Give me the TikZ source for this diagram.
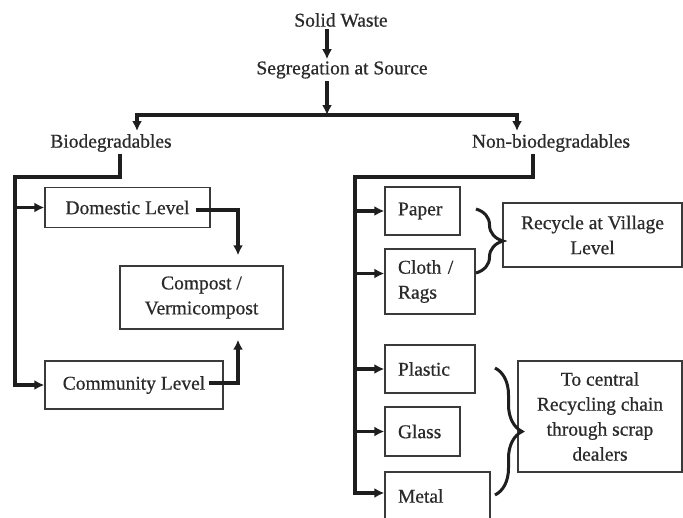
\documentclass[tikz,border=0pt]{standalone}
\usepackage{fontspec}
\setmainfont{Liberation Serif}
\newfontfamily\diagfont{Liberation Serif}[FakeBold=0.6]
\usetikzlibrary{arrows.meta,decorations.pathreplacing,calc}
\definecolor{ink}{HTML}{1E1E1E}
\definecolor{boxc}{HTML}{3A3A3A}
\definecolor{txtc}{HTML}{2A2A2A}
\begin{document}
\begin{tikzpicture}[x=1pt,y=-1pt,
  font=\diagfont\fontsize{19.5}{25}\selectfont,
  txt/.style={inner sep=2pt, text=txtc},
  box/.style={draw=boxc, line width=1.4pt, inner sep=0pt, text=txtc, align=center},
  lbox/.style={draw=boxc, line width=1.4pt, inner xsep=13pt, inner ysep=0pt, text=txtc, align=left},
  tree/.style={line width=3.2pt, draw=ink},
  arr/.style={tree, -{Latex[length=10pt,width=10pt]}},
  brc/.style={line width=3pt, draw=ink, decorate, decoration={brace, amplitude=#1}},
]
\useasboundingbox (0,0) rectangle (683,517);
\fill[white] (0,0) rectangle (683,517);
\begin{scope}
\clip (0,0) rectangle (683,517);

% titles
\node[txt] (sw)  at (341,20)  {Solid Waste};
\node[txt] (seg) at (342,70)  {Segregation at Source};
\node[txt] (bio) at (111,143) {Biodegradables};
\node[txt] (nb)  at (551,143) {Non-biodegradables};

% left boxes
\node[box, minimum width=165pt, minimum height=40pt] (dom) at (127.5,207.5) {Domestic Level};
\node[box, minimum width=163pt, minimum height=63pt] (cmp) at (201.5,297.5) {Compost /\\Vermicompost};
\node[box, minimum width=178pt, minimum height=48pt] (com) at (134,385) {Community Level};

% right boxes
\node[lbox, text width=49pt, minimum height=48pt] (paper) at (422.5,211) {Paper};
\node[lbox, text width=64pt, minimum height=65pt] (cloth) at (430,281.5) {Cloth /\\Rags};
\node[lbox, text width=64pt, minimum height=48pt] (plastic) at (430,369) {Plastic};
\node[lbox, text width=49pt, minimum height=49pt] (glass) at (422.5,431.5) {Glass};
\node[lbox, text width=79pt, minimum height=48pt] (metal) at (437.5,496) {Metal};
\node[box, minimum width=179pt, minimum height=64pt] (rec) at (592.5,235) {Recycle at Village\\Level};
\node[box, minimum width=164pt, minimum height=111pt] (cen) at (600,416.5) {To central\\Recycling chain\\through scrap\\dealers};

% top arrows
\coordinate (jC) at (327,115);
\coordinate (tL) at (137,131);
\coordinate (tR) at (517,131);
\draw[arr] (sw.south -| jC) -- (seg.north -| jC);
\draw[arr] (seg.south -| jC) -- (jC);
\draw[arr] (jC) -| (tL);
\draw[arr] (jC) -| (tR);

% left tree
\coordinate (L1) at (15,177);
\draw[arr] ([xshift=9pt]bio.south) |- (L1) |- (com.west);
\draw[arr] (L1 |- dom.west) -- (dom.west);

% to compost
\coordinate (dS) at ([xshift=-15pt,yshift=-2.5pt]dom.east);
\coordinate (cT) at ([xshift=36.5pt,yshift=10pt]cmp.north);
\draw[arr] (dS) -| (cT);
\coordinate (cS) at ([xshift=-15pt,yshift=2pt]com.east);
\coordinate (cB) at ([xshift=36.5pt,yshift=-10pt]cmp.south);
\draw[arr] (cS) -| (cB);

% right tree
\coordinate (R1) at (355,177);
\coordinate (cA) at ([yshift=8pt]cloth.west);
\coordinate (mA) at ([yshift=3pt]metal.west);
\draw[arr] ([xshift=-18pt]nb.south) |- (R1) |- (mA);
\draw[arr] (R1 |- paper.west) -- (paper.west);
\draw[arr] (R1 |- cA) -- (cA);
\draw[arr] (R1 |- plastic.west) -- (plastic.west);
\draw[arr] (R1 |- glass.west) -- (glass.west);

% braces
\draw[brc=27pt] (476,209) -- (476,273);
\draw[brc=27pt] (495,368) -- (495,495);
\end{scope}
\end{tikzpicture}
\end{document}
